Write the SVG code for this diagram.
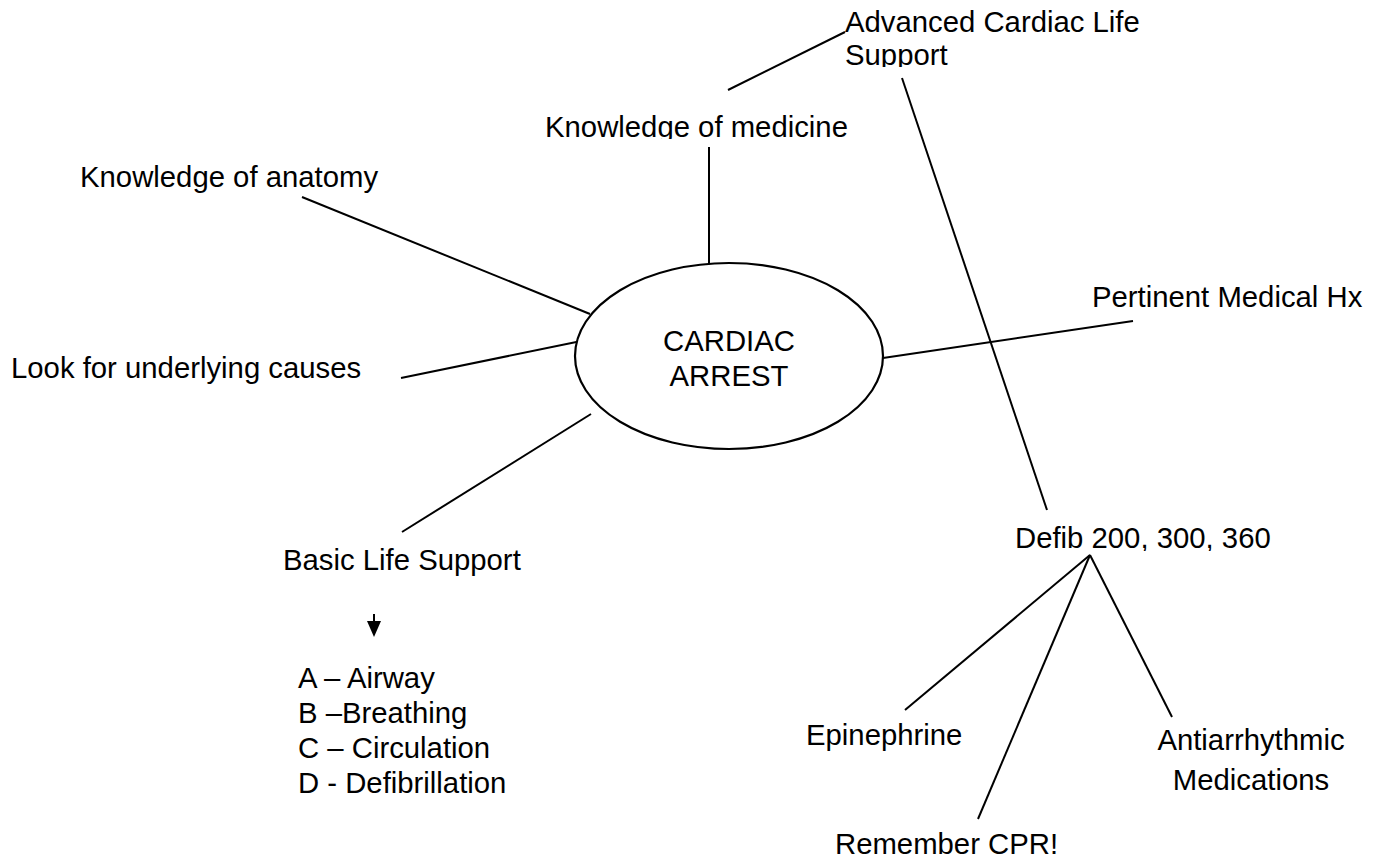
<svg xmlns="http://www.w3.org/2000/svg" width="1380" height="861" viewBox="0 0 1380 861">
<style>
text{font-family:"Liberation Sans",Arial,sans-serif;font-size:29.3px;fill:#000}
.c{text-anchor:middle}
line,polyline{stroke:#000;stroke-width:2;fill:none}
ellipse{stroke:#000;stroke-width:2.2;fill:#fff}
</style>
<defs>
<clipPath id="clipMed"><rect x="530" y="100" width="340" height="39"/></clipPath>
<clipPath id="clipAcls"><rect x="830" y="0" width="330" height="67"/></clipPath>
<clipPath id="clipDefib"><rect x="1000" y="515" width="290" height="36"/></clipPath>
</defs>
<rect width="1380" height="861" fill="#fff"/>
<g id="connectors">
<line x1="302" y1="197" x2="590" y2="314"/>
<line x1="401" y1="378" x2="591" y2="339"/>
<line x1="402" y1="532" x2="591" y2="414"/>
<line x1="709" y1="147" x2="709" y2="263"/>
<line x1="728" y1="90" x2="845" y2="32"/>
<line x1="883" y1="358" x2="1133" y2="321"/>
<line x1="902" y1="78" x2="1047" y2="510"/>
<line x1="1090" y1="555" x2="905" y2="710"/>
<line x1="1090" y1="555" x2="978" y2="819"/>
<line x1="1090" y1="555" x2="1172" y2="717"/>
<line x1="374" y1="614" x2="374" y2="624"/>
<polygon points="367,621 381,621 374,637" fill="#000"/>
</g>
<g id="center">
<ellipse cx="729" cy="356" rx="154" ry="93"/>
<text class="c" x="729" y="351">CARDIAC</text>
<text class="c" x="729" y="386">ARREST</text>
</g>
<g id="anatomy"><text x="80" y="187">Knowledge of anatomy</text></g>
<g id="causes"><text x="11" y="378">Look for underlying causes</text></g>
<g id="medicine"><text x="545" y="137" clip-path="url(#clipMed)">Knowledge of medicine</text></g>
<g id="acls"><text clip-path="url(#clipAcls)"><tspan x="845" y="32">Advanced Cardiac Life</tspan><tspan x="845" y="65">Support</tspan></text></g>
<g id="history"><text x="1092" y="307">Pertinent Medical Hx</text></g>
<g id="bls"><text x="283" y="570">Basic Life Support</text></g>
<g id="abcd">
<text x="298" y="688">A – Airway</text>
<text x="298" y="723">B –Breathing</text>
<text x="298" y="758">C – Circulation</text>
<text x="298" y="793">D - Defibrillation</text>
</g>
<g id="defib"><text x="1015" y="548" clip-path="url(#clipDefib)">Defib 200, 300, 360</text></g>
<g id="epi"><text x="806" y="745">Epinephrine</text></g>
<g id="antiarrhythmic"><text class="c"><tspan x="1251" y="750">Antiarrhythmic</tspan><tspan x="1251" y="790">Medications</tspan></text></g>
<g id="cpr"><text x="835" y="854">Remember CPR!</text></g>
</svg>
